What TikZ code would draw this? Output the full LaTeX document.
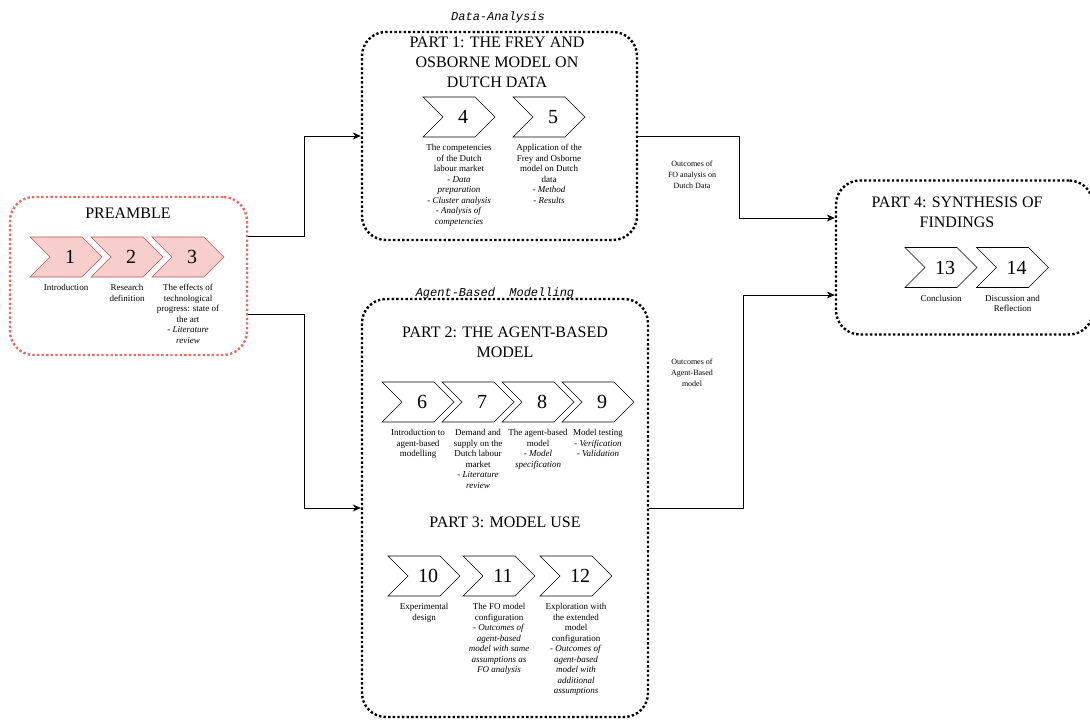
\documentclass[tikz,border=0pt]{standalone}
\usepackage{fontspec}
\setmainfont{Liberation Serif}
\setmonofont{Liberation Mono}
\usepackage{tikz}
\usetikzlibrary{shapes.symbols, arrows.meta}
\usepackage{color}
\definecolor{prefill}{HTML}{F8CECC}
\definecolor{prestroke}{HTML}{B85450}
\definecolor{prebox}{HTML}{EA6B66}

\begin{document}
\begin{tikzpicture}
		[x=1pt,y=-1pt,
		%Styles
		part box/.style={draw,rounded corners=24pt,line width=2.4pt,dash pattern=on 2.4pt off 2.2pt,inner sep=0pt},
		chevron/.style={signal,signal from=west,signal to=east,signal pointer angle=90,draw,line width=0.6pt,fill=white,minimum width=72pt,minimum height=40pt,inner sep=0pt,font=\fontsize{20}{24}\selectfont,execute at begin node={\hspace*{8pt}}},
		pre chevron/.style={chevron,fill=prefill,draw=prestroke},
		step text/.style={align=center,anchor=north,inner sep=0pt,yshift=-7pt,font=\fontsize{9}{10.5}\selectfont},
		title text/.style={align=center,font=\fontsize{16}{20}\selectfont},
		tag text/.style={font=\fontsize{12}{14}\ttfamily\itshape},
		flow text/.style={align=center,font=\fontsize{8}{11}\selectfont},
		flow/.style={line width=0.8pt,-{Stealth[length=8pt,width=7pt,inset=2.5pt]}}
		]
		
		\useasboundingbox (0,0) rectangle (1090,720);
		
		%The boxes
		\node[part box,draw=prebox,minimum width=237pt,minimum height=158pt] (pre) at (128.5,276) {};
		\node[part box,minimum width=275pt,minimum height=208pt] (part1) at (499.5,136) {};
		\node[part box,minimum width=286pt,minimum height=418pt] (part2) at (505,508) {};
		\node[part box,minimum width=257pt,minimum height=154pt] (part4) at (964.5,257.5) {};
		
		\node[tag text] (dataTag) at (498,17) {Data-Analysis};
		\node[tag text] (abmTag) at (495,293) {Agent-Based~~Modelling};
		
		\node[title text] (preTitle) at (128,213) {PREAMBLE};
		\node[title text] (part1Title) at (497,62) {PART 1: THE FREY AND\\OSBORNE MODEL ON\\DUTCH DATA};
		\node[title text] (part2Title) at (505,342) {PART 2: THE AGENT-BASED\\MODEL};
		\node[title text] (part3Title) at (505,522) {PART 3: MODEL USE};
		\node[title text] (part4Title) at (957,212.5) {PART 4: SYNTHESIS OF\\FINDINGS};
		
		%Preamble
		\node[pre chevron] (C1) at (66,257) {1};
		\node[pre chevron] (C2) at (127,257) {2};
		\node[pre chevron] (C3) at (188,257) {3};
		\node[step text] (T1) at (C1.south) {Introduction};
		\node[step text] (T2) at (C2.south) {Research\\definition};
		\node[step text] (T3) at (C3.south) {The effects of\\technological\\progress: state of\\the art\\- \textit{Literature}\\\textit{review}};
		
		%Part 1
		\node[chevron] (C4) at (459,117) {4};
		\node[chevron] (C5) at (549,117) {5};
		\node[step text] (T4) at (C4.south) {The competencies\\of the Dutch\\labour market\\- \textit{Data}\\\textit{preparation}\\- \textit{Cluster analysis}\\- \textit{Analysis of}\\\textit{competencies}};
		\node[step text] (T5) at (C5.south) {Application of the\\Frey and Osborne\\model on Dutch\\data\\- \textit{Method}\\- \textit{Results}};
		
		%Part 2
		\node[chevron] (C6) at (418,402) {6};
		\node[chevron] (C7) at (478,402) {7};
		\node[chevron] (C8) at (538,402) {8};
		\node[chevron] (C9) at (598,402) {9};
		\node[step text] (T6) at (C6.south) {Introduction to\\agent-based\\modelling};
		\node[step text] (T7) at (C7.south) {Demand and\\supply on the\\Dutch labour\\market\\- \textit{Literature}\\\textit{review}};
		\node[step text] (T8) at (C8.south) {The agent-based\\model\\- \textit{Model}\\\textit{specification}};
		\node[step text] (T9) at (C9.south) {Model testing\\- \textit{Verification}\\- \textit{Validation}};
		
		%Part 3
		\node[chevron] (C10) at (424,576) {10};
		\node[chevron] (C11) at (499,576) {11};
		\node[chevron] (C12) at (576,576) {12};
		\node[step text] (T10) at (C10.south) {Experimental\\design};
		\node[step text] (T11) at (C11.south) {The FO model\\configuration\\- \textit{Outcomes of}\\\textit{agent-based}\\\textit{model with same}\\\textit{assumptions as}\\\textit{FO analysis}};
		\node[step text] (T12) at (C12.south) {Exploration with\\the extended\\model\\configuration\\- \textit{Outcomes of}\\\textit{agent-based}\\\textit{model with}\\\textit{additional}\\\textit{assumptions}};
		
		%Part 4
		\node[chevron] (C13) at (941,267.5) {13};
		\node[chevron] (C14) at (1012.5,267.5) {14};
		\node[step text] (T13) at (C13.south) {Conclusion};
		\node[step text] (T14) at (C14.south) {Discussion and\\Reflection};
		
		%Connections
		\draw[flow] ([yshift=40pt]pre.east) -- ++(56,0) |- (part1.west);
		\draw[flow] ([yshift=-38pt]pre.east) -- ++(56,0) |- (part2.west);
		\draw[flow] (part1.east) -- ++(101,0) |- ([yshift=39.5pt]part4.west);
		\draw[flow] (part2.east) -- ++(94,0) |- ([yshift=-37.5pt]part4.west);
		
		\node[flow text] (foText) at (692,175) {Outcomes of\\FO analysis on\\Dutch Data};
		\node[flow text] (abmText) at (692,373) {Outcomes of\\Agent-Based\\model};
	\end{tikzpicture}
\end{document}
